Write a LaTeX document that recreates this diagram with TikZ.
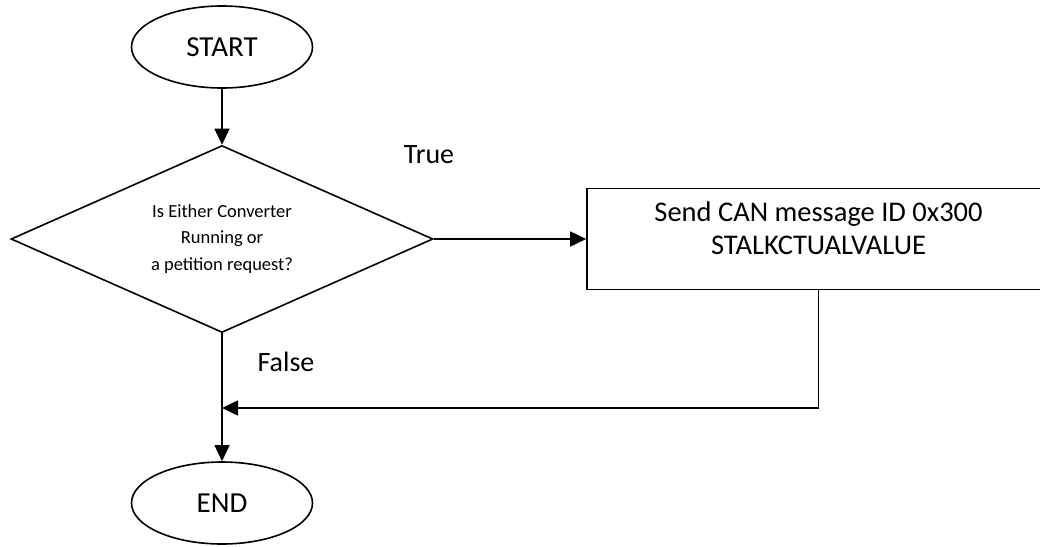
\documentclass[tikz,border=0pt]{standalone}
\usepackage{fontspec}
\setmainfont{Carlito}
\usetikzlibrary{shapes.geometric,arrows.meta}
\begin{document}
\begin{tikzpicture}[x=1pt,y=-1pt,
  line width=1.6pt,
  terminal/.style={ellipse,draw,minimum width=181pt,minimum height=82pt,inner sep=0pt,font=\fontsize{29}{33}\selectfont},
  decision/.style={diamond,draw,minimum width=422pt,minimum height=187pt,aspect=2.257,inner sep=0pt,align=center,font=\fontsize{18.5}{26.5}\selectfont},
  process/.style={rectangle,draw,minimum width=463pt,minimum height=101pt,inner sep=0pt},
  proclabel/.style={align=center,font=\fontsize{28.5}{33}\selectfont},
  branch/.style={font=\fontsize{28}{33}\selectfont},
  flow/.style={-{Triangle[length=16pt,width=15pt]}}]
  \useasboundingbox (0,0) rectangle (1040,546);
  \clip (0,0) rectangle (1040,546);
  % shapes
  \node[terminal] (start) at (222,47) {START};
  \node[decision] (dec) at (222,239) {Is Either Converter\\Running or\\a petition request?};
  \node[process] (send) at (818.5,239) {};
  \node[proclabel] (sendtxt) at (818.5,228.5) {Send CAN message ID 0x300\\STALKCTUALVALUE};
  \node[terminal] (end) at (222,503) {END};
  % branch labels
  \node[branch] (true) at (429,155) {True};
  \node[branch] (false) at (286,362) {False};
  % connectors
  \coordinate (join) at (222,408);
  \draw[flow] (start) -- (dec);
  \draw[flow] (dec) -- (send);
  \draw[flow] (send.south) |- (join);
  \draw[flow] (dec) -- (end);
\end{tikzpicture}
\end{document}
